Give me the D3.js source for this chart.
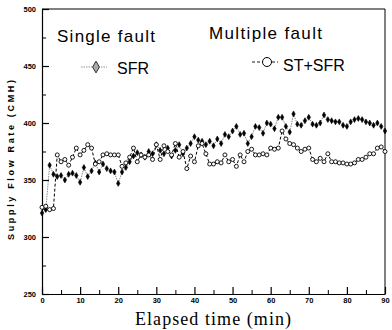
<!DOCTYPE html>
<html>
<head>
<meta charset="utf-8">
<script src="https://cdn.jsdelivr.net/npm/d3@7"></script>
<style>
  body { margin: 0; background: #fff; }
  svg { display: block; }
  .tick-text { font-family: "Liberation Sans", Arial, sans-serif; font-weight: bold; font-size: 7.5px; fill: #000; }
  .legend-text { font-family: "Liberation Sans", Arial, sans-serif; font-size: 17px; fill: #000; }
</style>
</head>
<body>
<svg id="chart" width="392" height="330"></svg>
<script>
// minutes 0..90, one reading per minute
var times = d3.range(0, 91);

var sfrValues = [
  321, 324, 363, 355, 353, 354, 350, 355, 356, 354,
  348, 361, 353, 358, 365, 357, 364, 360, 358, 357,
  347, 357, 361, 366, 371, 374, 372, 370, 375, 373,
  381, 376, 373, 378, 371, 376, 381, 373, 378, 382,
  388, 385, 384, 381, 384, 380, 386, 382, 390, 388,
  393, 397, 390, 391, 382, 388, 397, 396, 391, 400,
  399, 395, 405, 405, 397, 392, 408, 399, 398, 402,
  405, 399, 398, 400, 407, 403, 402, 401, 401, 398,
  397, 401, 403, 404, 403, 401, 400, 398, 400, 397,
  393
];

var stSfrValues = [
  326, 327, 324, 325, 372, 366, 368, 363, 370, 378,
  372, 376, 381, 378, 364, 366, 372, 373, 372, 372,
  372, 362, 365, 370, 378, 366, 372, 370, 372, 368,
  381, 368, 380, 375, 372, 382, 370, 375, 360, 371,
  366, 380, 382, 373, 364, 364, 366, 365, 372, 366,
  368, 362, 372, 366, 375, 377, 372, 372, 373, 372,
  378, 377, 378, 393, 386, 382, 381, 378, 375, 377,
  378, 368, 366, 369, 366, 373, 366, 366, 365, 365,
  364, 364, 365, 368, 368, 370, 373, 373, 378, 379,
  375
];

var xTicks = d3.range(0, 91, 10);
var xMinorTicks = d3.range(5, 90, 10);
var yTicks = [250, 300, 350, 400, 450, 500];
var yMinorTicks = [275, 325, 375, 425, 475];

var margin = { top: 9, right: 7, bottom: 36, left: 42 },
    width = 392,
    height = 330;

var svg = d3.select('#chart');

var x = d3.scaleLinear()
    .domain([0, 90])
    .range([margin.left, width - margin.right]);

var y = d3.scaleLinear()
    .domain([250, 500])
    .range([height - margin.bottom, margin.top]);

// frame: top and right border
svg.append('path')
    .attr('d', 'M' + x(0) + ',' + y(500) + 'H' + x(90) + 'V' + y(250))
    .attr('fill', 'none')
    .attr('stroke', '#000')
    .attr('stroke-width', 1);

// x axis, ticks point inward
var xAxis = svg.append('g')
    .attr('transform', 'translate(0,' + y(250) + ')')
    .call(d3.axisBottom(x).tickValues(xTicks).tickSizeInner(-7).tickSizeOuter(0).tickPadding(4));
xAxis.selectAll('.tick text').attr('class', 'tick-text');
xAxis.selectAll('line, path').attr('stroke', '#000').attr('stroke-width', 1.2);

svg.append('g')
    .attr('transform', 'translate(0,' + y(250) + ')')
    .call(d3.axisBottom(x).tickValues(xMinorTicks).tickSize(-4).tickFormat(''))
    .call(g => g.select('.domain').remove())
    .selectAll('line').attr('stroke', '#000');

// y axis
var yAxis = svg.append('g')
    .attr('transform', 'translate(' + x(0) + ',0)')
    .call(d3.axisLeft(y).tickValues(yTicks).tickSizeInner(-7).tickSizeOuter(0).tickPadding(6));
yAxis.selectAll('.tick text').attr('class', 'tick-text');
yAxis.selectAll('line, path').attr('stroke', '#000').attr('stroke-width', 1.2);

svg.append('g')
    .attr('transform', 'translate(' + x(0) + ',0)')
    .call(d3.axisLeft(y).tickValues(yMinorTicks).tickSize(-4).tickFormat(''))
    .call(g => g.select('.domain').remove())
    .selectAll('line').attr('stroke', '#000');

// axis titles
svg.append('text')
    .attr('transform', 'translate(14,' + 160 + ') rotate(-90)')
    .attr('text-anchor', 'middle')
    .attr('textLength', 160)
    .style('font-family', '"Liberation Sans", Arial, sans-serif')
    .style('font-weight', 'bold')
    .style('font-size', '9px')
    .text('Supply Flow Rate (CMH)');

svg.append('text')
    .attr('x', 213)
    .attr('y', 325)
    .attr('text-anchor', 'middle')
    .attr('textLength', 156)
    .style('font-family', '"Liberation Serif", "Times New Roman", serif')
    .style('font-size', '18px')
    .text('Elapsed  time (min)');

// series
var sfrData = times.map((t, i) => ({ t: t, v: sfrValues[i] }));
var stData = times.map((t, i) => ({ t: t, v: stSfrValues[i] }));

var line = d3.line()
    .x(d => x(d.t))
    .y(d => y(d.v));

svg.append('path')
    .datum(sfrData)
    .attr('d', line)
    .attr('fill', 'none')
    .attr('stroke', '#555')
    .attr('stroke-width', 0.7)
    .attr('stroke-dasharray', '1.5,1');

svg.append('path')
    .datum(stData)
    .attr('d', line)
    .attr('fill', 'none')
    .attr('stroke', '#000')
    .attr('stroke-width', 1)
    .attr('stroke-dasharray', '3,2');

var diamond = d3.symbol().type(d3.symbolDiamond).size(10);

svg.append('g')
    .selectAll('path')
    .data(sfrData)
    .enter()
    .append('path')
        .attr('transform', d => 'translate(' + x(d.t) + ',' + y(d.v) + ')')
        .attr('d', diamond)
        .attr('fill', '#000')
        .attr('stroke', '#000')
        .attr('stroke-width', 0.6);

svg.append('g')
    .selectAll('circle')
    .data(stData)
    .enter()
    .append('circle')
        .attr('cx', d => x(d.t))
        .attr('cy', d => y(d.v))
        .attr('r', 2)
        .attr('fill', '#fff')
        .attr('stroke', '#000')
        .attr('stroke-width', 0.9);

// legend
svg.append('text')
    .attr('class', 'legend-text')
    .attr('x', 57)
    .attr('y', 42)
    .attr('textLength', 98)
    .text('Single  fault');

svg.append('text')
    .attr('class', 'legend-text')
    .attr('x', 209)
    .attr('y', 39)
    .attr('textLength', 113)
    .text('Multiple fault');

svg.append('line')
    .attr('x1', 81).attr('x2', 107)
    .attr('y1', 67).attr('y2', 67)
    .attr('stroke', '#777')
    .attr('stroke-width', 0.8)
    .attr('stroke-dasharray', '1.5,1');

svg.append('path')
    .attr('transform', 'translate(96,67)')
    .attr('d', d3.symbol().type(d3.symbolDiamond).size(40))
    .attr('fill', '#aaa')
    .attr('stroke', '#333')
    .attr('stroke-width', 1);

svg.append('text')
    .attr('class', 'legend-text')
    .attr('x', 117)
    .attr('y', 74)
    .style('font-size', '16px')
    .text('SFR');

svg.append('line')
    .attr('x1', 252).attr('x2', 278)
    .attr('y1', 62).attr('y2', 62)
    .attr('stroke', '#000')
    .attr('stroke-width', 0.9)
    .attr('stroke-dasharray', '3,2');

svg.append('circle')
    .attr('cx', 267)
    .attr('cy', 62)
    .attr('r', 4.5)
    .attr('fill', '#fff')
    .attr('stroke', '#000')
    .attr('stroke-width', 1);

svg.append('text')
    .attr('class', 'legend-text')
    .attr('x', 283)
    .attr('y', 71)
    .style('font-size', '16px')
    .text('ST+SFR');
</script>
</body>
</html>
